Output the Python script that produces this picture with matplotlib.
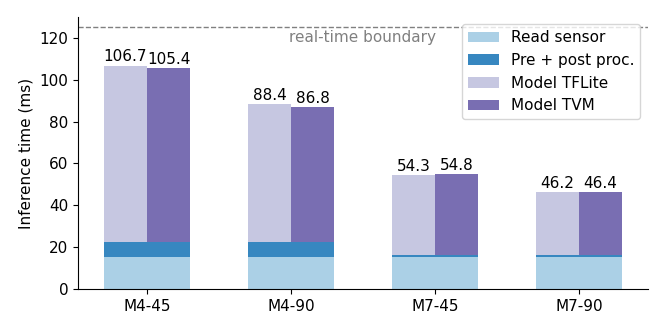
import matplotlib.pyplot as plt
import numpy as np

# Per-configuration timing breakdown (ms)
configs = ['M4-45', 'M4-90', 'M7-45', 'M7-90']
read_sensor = [15.2, 15.2, 15.2, 15.2]
pre_post = [7.5, 7.5, 1.1, 1.1]
model_tflite = [84.0, 65.7, 38.0, 29.9]
model_tvm = [82.7, 64.1, 38.5, 30.1]
realtime_limit = 125

c_read = '#abd0e6'
c_pre = '#3787c0'
c_tflite = '#c6c7e1'
c_tvm = '#796eb2'

plt.rcParams['font.size'] = 11

x = np.arange(len(configs))
w = 0.3
base = np.array(read_sensor) + np.array(pre_post)

fig = plt.figure(figsize=(6.64, 3.32), dpi=100)
ax = fig.add_axes([0.1175, 0.1286, 0.8585, 0.8211])

# shared bottom segments span both bars
ax.bar(x, read_sensor, width=2 * w, color=c_read, label='Read sensor')
ax.bar(x, pre_post, width=2 * w, bottom=read_sensor, color=c_pre, label='Pre + post proc.')
b1 = ax.bar(x - w / 2, model_tflite, width=w, bottom=base, color=c_tflite, label='Model TFLite')
b2 = ax.bar(x + w / 2, model_tvm, width=w, bottom=base, color=c_tvm, label='Model TVM')

# totals above each model bar
for bars, vals in [(b1, model_tflite), (b2, model_tvm)]:
    totals = base + np.array(vals)
    ax.bar_label(bars, labels=[f'{t:.1f}' for t in totals], padding=1, fontsize=11)

ax.axhline(realtime_limit, color='gray', linestyle='--', linewidth=1)
ax.text(2.01, realtime_limit - 1.2, 'real-time boundary', color='gray',
        ha='right', va='top', fontsize=11)

ax.set_ylim(0, 130)
ax.set_yticks([0, 20, 40, 60, 80, 100, 120])
ax.set_xticks(x)
ax.set_xticklabels(configs)
ax.set_ylabel('Inference time (ms)')
ax.spines['top'].set_visible(False)
ax.spines['right'].set_visible(False)
ax.legend(loc='upper right')

fig.savefig('out.png', dpi=100)
